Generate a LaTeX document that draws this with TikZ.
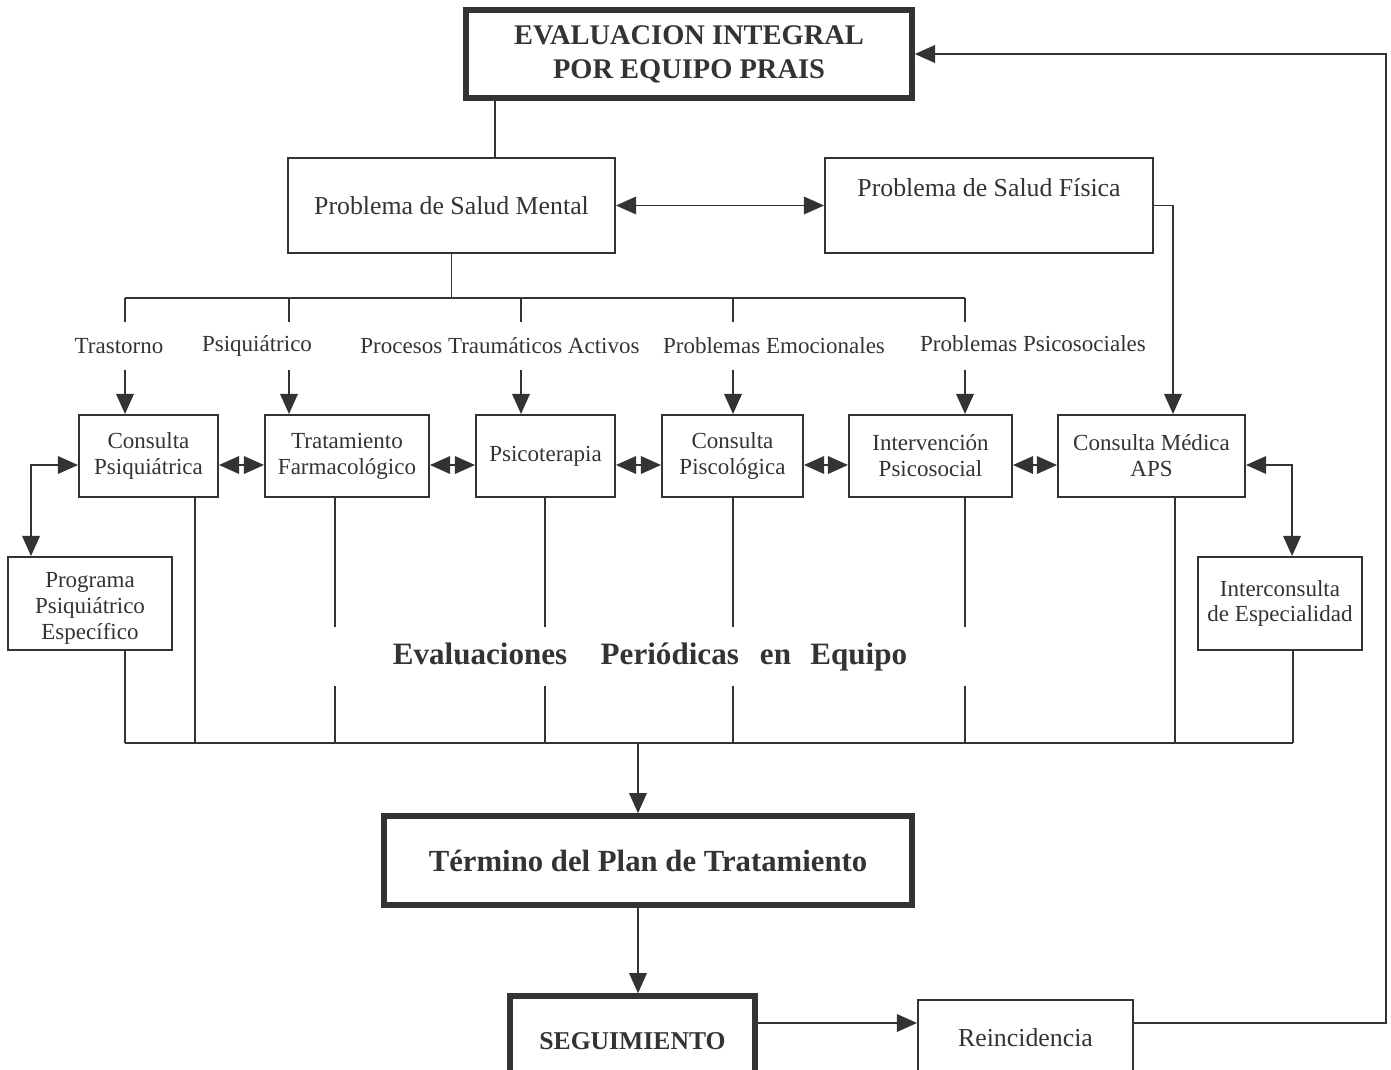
\documentclass[tikz,border=0pt]{standalone}
\usepackage{fontspec}
\setmainfont{Liberation Serif}
\usetikzlibrary{arrows.meta,calc}
\definecolor{ink}{HTML}{333333}
\tikzset{
  bx/.style 2 args={draw, minimum width=#1*0.02cm, minimum height=#2*0.02cm,
    inner sep=0pt, align=center},
  gordo/.style={line width=3.2pt},
  chico/.style={font=\fontsize{13.1}{14.7}\selectfont},
  grande/.style={font=\fontsize{14.7}{14.7}\selectfont},
  arr/.style={-{Triangle[length=11.5pt,width=10pt]}},
  dbl/.style={{Triangle[length=11.5pt,width=10pt]}-{Triangle[length=11.5pt,width=10pt]}}
}
\begin{document}
\begin{tikzpicture}[x=0.02cm,y=-0.02cm,ink,line width=1.1pt]
	\useasboundingbox (0,0) rectangle (1391,1069);
	\clip (0,0) rectangle (1391,1069);

	% cajas
	\node[bx={446}{88}, gordo, font=\fontsize{16.2}{19.3}\selectfont\bfseries] (eval) at (689,54) {EVALUACION INTEGRAL\\POR EQUIPO PRAIS};
	\node[bx={327}{95}, grande] (ment) at (451.5,205.5) {Problema de Salud Mental};
	\node[bx={328}{95}, grande] (fis) at (989,205.5) {Problema de Salud Física\\[6pt]\mbox{}};

	\node[bx={139}{82}, chico] (cpsq) at (148.5,456) {Consulta\\Psiquiátrica};
	\node[bx={164}{82}, chico] (trat) at (347,456) {Tratamiento\\Farmacológico};
	\node[bx={139}{82}, chico] (psic) at (545.5,456) {Psicoterapia};
	\node[bx={141}{82}, chico] (cpsi) at (732.5,456) {Consulta\\Piscológica};
	\node[bx={163}{82}, chico] (intp) at (930.5,456) {Intervención\\Psicosocial};
	\node[bx={187}{82}, chico] (cmed) at (1151.5,456) {Consulta Médica\\APS};

	\node[bx={164}{93}, chico] (prog) at (90,603.5) {\rule{0pt}{14pt}Programa\\Psiquiátrico\\Específico};
	\node[bx={164}{93}, chico] (ints) at (1280,603.5) {Interconsulta\\de Especialidad};

	\node[font=\fontsize{17.7}{20}\selectfont\bfseries] (eqp) at (650,657) {Evaluaciones\hspace{19pt}Periódicas\hspace{12pt}en\hspace{11pt}Equipo};

	\node[bx={528}{89}, gordo, font=\fontsize{17.5}{20}\selectfont\bfseries] (term) at (648,860.5) {Término del Plan de Tratamiento};
	\node[bx={245}{90}, gordo, font=\fontsize{14.6}{16}\selectfont\bfseries] (seg) at (632.5,1041) {SEGUIMIENTO};
	\node[bx={215}{76}, grande] (rein) at (1025.5,1038) {Reincidencia};

	% rotulos
	\node[chico] (t1) at (119,346) {Trastorno};
	\node[chico] (t2) at (257,346) {Psiquiátrico};
	\node[chico] (t3) at (500,346) {Procesos Traumáticos Activos};
	\node[chico] (t4) at (774,346) {Problemas Emocionales};
	\node[chico] (t5) at (1033,344) {Problemas Psicosociales};

	% arriba
	\draw ($(eval.south west)+(32,0)$) coordinate (e1) -- (e1 |- ment.north);
	\draw[dbl] (ment.east) -- (fis.west);
	\draw[arr] (fis.east) -| ($(cmed.north)+(21.5,0)$);

	\coordinate (bI) at (125,298); \coordinate (bD) at (965,298);
	\draw (ment.south) -- (ment.south |- bI);
	\draw (bI) -- (bD);
	\foreach \x/\b in {125/cpsq, 289/trat, 521/psic, 733/cpsi, 965/intp} {
		\draw (\x,298) -- (\x,322);
		\draw[arr] (\x,370) -- (\x,0 |- \b.north);
	}

	% fila
	\foreach \a/\b in {cpsq/trat, trat/psic, psic/cpsi, cpsi/intp, intp/cmed}
		\draw[dbl] ($(\a.east)+(0,9)$) -- ($(\b.west)+(0,9)$);
	\draw[dbl] ($(cpsq.west)+(0,9)$) -| ($(prog.north west)+(24,0)$);
	\draw[dbl] ($(cmed.east)+(0,9)$) -| ($(ints.north west)+(95,0)$);

	% evaluaciones
	\coordinate (fI) at (125,743); \coordinate (fD) at (1293,743);
	\draw (fI) -- (fD);
	\draw (prog.south -| fI) -- (fI);
	\draw (ints.south -| fD) -- (fD);
	\draw ($(cpsq.south)+(46.5,0)$) coordinate (d1) -- (d1 |- fI);
	\draw ($(cmed.south)+(23.5,0)$) coordinate (d6) -- (d6 |- fI);
	\foreach \b/\d in {trat/-12, psic/-0.5, cpsi/0.5, intp/34.5} {
		\draw ($(\b.south)+(\d,0)$) coordinate (g) -- (g |- 0,627);
		\draw (g |- 0,686) -- (g |- fI);
	}

	% abajo
	\coordinate (m1) at ($(term.north)+(-10,0)$);
	\draw[arr] (m1 |- fI) -- (m1);
	\draw[arr] (m1 |- term.south) -- (m1 |- seg.north);
	\draw[arr] ($(seg.east)+(0,-18)$) -- ($(rein.west)+(0,-15)$);
	\coordinate (r1) at (1386,0);
	\draw[arr] ($(rein.east)+(0,-15)$) -| (r1 |- eval.east) -- (eval.east);
\end{tikzpicture}
\end{document}
